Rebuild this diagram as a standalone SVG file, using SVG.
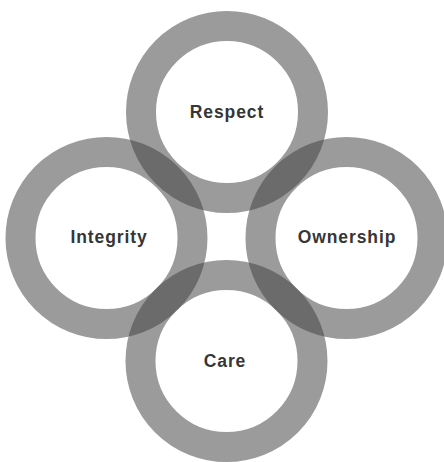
<svg xmlns="http://www.w3.org/2000/svg" width="444" height="462" viewBox="0 0 444 462">
<style>
.ring{fill:none;stroke:#404040;stroke-opacity:0.52;stroke-width:30}
.lbl{font-family:"Liberation Sans",Arial,sans-serif;font-weight:bold;font-size:17.5px;fill:#363636;text-anchor:middle;letter-spacing:0.9px}
</style>
<rect width="444" height="462" fill="#ffffff"/>
<g id="respect"><circle class="ring" cx="227" cy="112" r="86"/><text class="lbl" x="227" y="118">Respect</text></g>
<g id="integrity"><circle class="ring" cx="106.5" cy="238" r="86"/><text class="lbl" x="109" y="243">Integrity</text></g>
<g id="ownership"><circle class="ring" cx="346.5" cy="238" r="86"/><text class="lbl" x="347" y="243">Ownership</text></g>
<g id="care"><circle class="ring" cx="226.5" cy="361" r="86"/><text class="lbl" x="225" y="367">Care</text></g>
<g id="connectors"></g>
</svg>
